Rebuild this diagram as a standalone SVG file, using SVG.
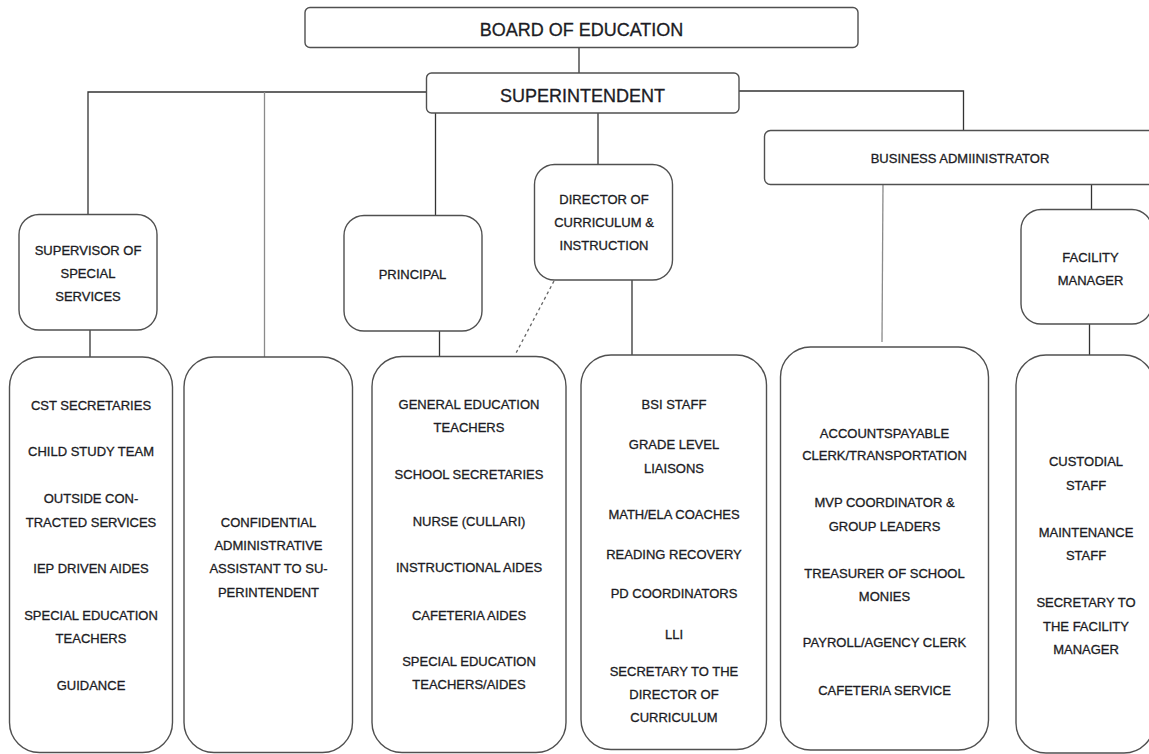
<svg xmlns="http://www.w3.org/2000/svg" width="1149" height="754" viewBox="0 0 1149 754">
<style>
.box{fill:#fff;stroke:#505050;stroke-width:1.4}
.ln{stroke:#333;stroke-width:1.3;fill:none}
.lg{stroke:#8a8a8a;stroke-width:1.3;fill:none}
.dash{stroke:#666;stroke-width:1.3;stroke-dasharray:3,3;fill:none}
text{font-family:"Liberation Sans",Arial,sans-serif;fill:#1c1c24;stroke:#1c1c24;stroke-width:0.3;text-anchor:middle}
.big{font-size:18px}
.sm{font-size:13px}
</style>
<rect width="1149" height="754" fill="#fff"/>
<g id="connectors">
<line class="ln" x1="579" y1="47" x2="579" y2="73"/>
<polyline class="ln" points="426,92 88,92 88,214"/>
<line class="lg" x1="264.5" y1="92" x2="264.5" y2="357"/>
<line class="ln" x1="435.5" y1="113" x2="435.5" y2="215"/>
<line class="ln" x1="598" y1="113" x2="598" y2="164"/>
<polyline class="ln" points="739,91 963.5,91 963.5,131"/>
<line class="ln" x1="90" y1="330" x2="90" y2="357"/>
<line class="ln" x1="439.5" y1="331" x2="439.5" y2="356"/>
<line class="ln" x1="632" y1="280" x2="632" y2="355"/>
<line class="dash" x1="554" y1="281" x2="515" y2="355"/>
<line class="lg" x1="883" y1="184" x2="882" y2="342"/>
<line class="ln" x1="1091.5" y1="184" x2="1091.5" y2="209"/>
<line class="ln" x1="1089.5" y1="324" x2="1089.5" y2="355"/>
</g>
<g id="board">
<rect class="box" x="305" y="7.5" width="553" height="40" rx="5"/>
<text class="big" x="581.5" y="36">BOARD OF EDUCATION</text>
</g>
<g id="superintendent">
<rect class="box" x="426.5" y="73" width="312.5" height="40" rx="5"/>
<text class="big" x="582.5" y="101.5">SUPERINTENDENT</text>
</g>
<g id="business-admin">
<rect class="box" x="764.5" y="130.5" width="400" height="54" rx="6"/>
<text class="sm" x="960" y="162.5">BUSINESS ADMIINISTRATOR</text>
</g>
<g id="supervisor">
<rect class="box" x="19" y="214.5" width="138" height="115.5" rx="20"/>
<text class="sm" x="88" y="254.5">SUPERVISOR OF</text>
<text class="sm" x="88" y="278">SPECIAL</text>
<text class="sm" x="88" y="301">SERVICES</text>
</g>
<g id="principal">
<rect class="box" x="344" y="215.5" width="138" height="115.5" rx="20"/>
<text class="sm" x="412.5" y="279">PRINCIPAL</text>
</g>
<g id="director">
<rect class="box" x="534.5" y="164.5" width="138" height="115.5" rx="20"/>
<text class="sm" x="604" y="204">DIRECTOR OF</text>
<text class="sm" x="604" y="227">CURRICULUM &amp;</text>
<text class="sm" x="604" y="250">INSTRUCTION</text>
</g>
<g id="facility-manager">
<rect class="box" x="1021" y="209.5" width="131" height="114.5" rx="20"/>
<text class="sm" x="1090.5" y="261.5">FACILITY</text>
<text class="sm" x="1090.5" y="284.5">MANAGER</text>
</g>
<g id="special-services-staff">
<rect class="box" x="9.5" y="357" width="163" height="395.5" rx="30"/>
<text class="sm" x="91" y="410">CST SECRETARIES</text>
<text class="sm" x="91" y="456">CHILD STUDY TEAM</text>
<text class="sm" x="91" y="502.5">OUTSIDE CON-</text>
<text class="sm" x="91" y="526.5">TRACTED SERVICES</text>
<text class="sm" x="91" y="573">IEP DRIVEN AIDES</text>
<text class="sm" x="91" y="620">SPECIAL EDUCATION</text>
<text class="sm" x="91" y="643">TEACHERS</text>
<text class="sm" x="91" y="690">GUIDANCE</text>
</g>
<g id="confidential-assistant">
<rect class="box" x="184" y="357" width="168.5" height="395.5" rx="30"/>
<text class="sm" x="268.5" y="526.5">CONFIDENTIAL</text>
<text class="sm" x="268.5" y="550">ADMINISTRATIVE</text>
<text class="sm" x="268.5" y="573">ASSISTANT TO SU-</text>
<text class="sm" x="268.5" y="596.5">PERINTENDENT</text>
</g>
<g id="school-staff">
<rect class="box" x="372" y="356.5" width="194" height="396" rx="30"/>
<text class="sm" x="469" y="408.5">GENERAL EDUCATION</text>
<text class="sm" x="469" y="431.5">TEACHERS</text>
<text class="sm" x="469" y="479">SCHOOL SECRETARIES</text>
<text class="sm" x="469" y="526">NURSE (CULLARI)</text>
<text class="sm" x="469" y="571.5">INSTRUCTIONAL AIDES</text>
<text class="sm" x="469" y="620">CAFETERIA AIDES</text>
<text class="sm" x="469" y="666">SPECIAL EDUCATION</text>
<text class="sm" x="469" y="689">TEACHERS/AIDES</text>
</g>
<g id="curriculum-staff">
<rect class="box" x="581" y="355" width="185.5" height="394.5" rx="30"/>
<text class="sm" x="674" y="408.5">BSI STAFF</text>
<text class="sm" x="674" y="448.5">GRADE LEVEL</text>
<text class="sm" x="674" y="472.5">LIAISONS</text>
<text class="sm" x="674" y="519">MATH/ELA COACHES</text>
<text class="sm" x="674" y="558.5">READING RECOVERY</text>
<text class="sm" x="674" y="598">PD COORDINATORS</text>
<text class="sm" x="674" y="639">LLI</text>
<text class="sm" x="674" y="675.5">SECRETARY TO THE</text>
<text class="sm" x="674" y="699">DIRECTOR OF</text>
<text class="sm" x="674" y="722">CURRICULUM</text>
</g>
<g id="business-staff">
<rect class="box" x="780.5" y="347" width="208" height="403" rx="30"/>
<text class="sm" x="884.5" y="437.5">ACCOUNTSPAYABLE</text>
<text class="sm" x="884.5" y="460">CLERK/TRANSPORTATION</text>
<text class="sm" x="884.5" y="507">MVP COORDINATOR &amp;</text>
<text class="sm" x="884.5" y="531">GROUP LEADERS</text>
<text class="sm" x="884.5" y="577.5">TREASURER OF SCHOOL</text>
<text class="sm" x="884.5" y="601">MONIES</text>
<text class="sm" x="884.5" y="647">PAYROLL/AGENCY CLERK</text>
<text class="sm" x="884.5" y="695">CAFETERIA SERVICE</text>
</g>
<g id="facility-staff">
<rect class="box" x="1016" y="355" width="138" height="398" rx="30"/>
<text class="sm" x="1086" y="466">CUSTODIAL</text>
<text class="sm" x="1086" y="490">STAFF</text>
<text class="sm" x="1086" y="536.5">MAINTENANCE</text>
<text class="sm" x="1086" y="560">STAFF</text>
<text class="sm" x="1086" y="606.5">SECRETARY TO</text>
<text class="sm" x="1086" y="630.5">THE FACILITY</text>
<text class="sm" x="1086" y="654">MANAGER</text>
</g>
</svg>
